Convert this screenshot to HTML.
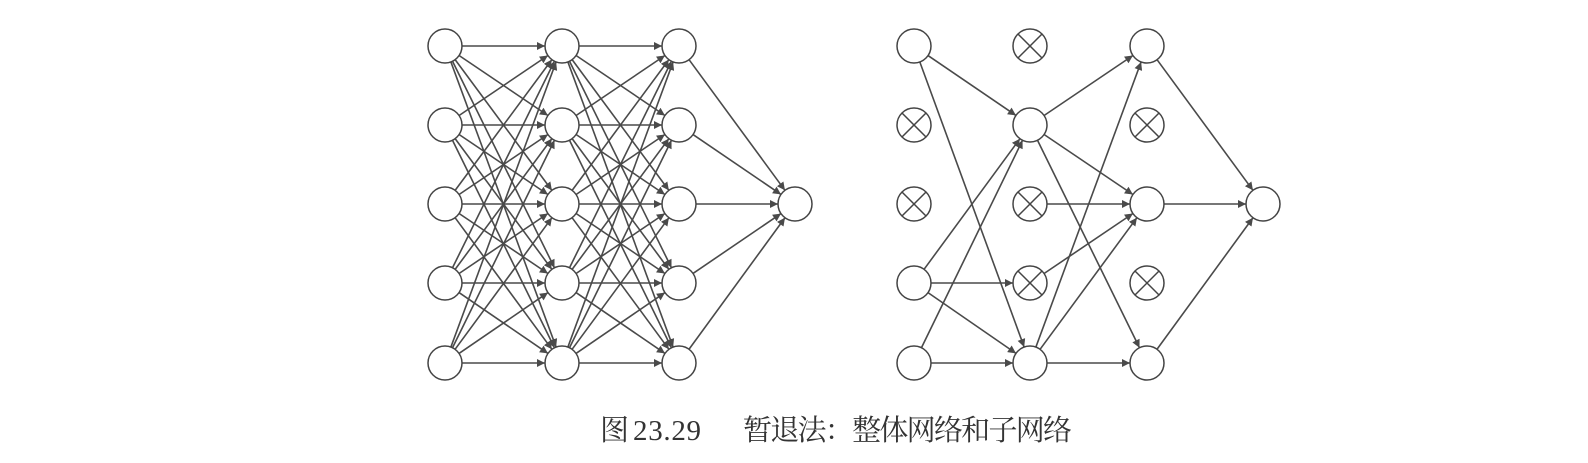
<!DOCTYPE html>
<html><head><meta charset="utf-8">
<style>
html,body{margin:0;padding:0;background:#fff;}
svg{display:block;}
</style></head>
<body>
<svg id="fig" width="1588" height="463" xmlns="http://www.w3.org/2000/svg">
<defs>
<marker id="ah" viewBox="0 0 10 10" refX="10" refY="5" markerWidth="13" markerHeight="8" markerUnits="userSpaceOnUse" orient="auto">
<path d="M0,0 L10,5 L0,10 z" fill="#4a4a4a"/>
</marker>
</defs>
<g id="edges"></g>
<g id="nodes"></g>
<g font-family="'Liberation Serif','Noto Serif CJK SC',serif" fill="#333">
<text x="600" y="440" font-size="29">图</text>
<text x="633" y="440" font-size="29" textLength="68">23.29</text>
<text x="743" y="440" font-size="29" textLength="329" lengthAdjust="spacing">暂退法：整体网络和子网络</text>
</g>
</svg>
<script>
const rows = [46, 125, 204, 283, 363];
const leftX = [445, 562, 679, 795];
const rightX = [914, 1030, 1147, 1263];
const R = 17;
// right network: dropped nodes per layer (row indices)
const droppedL0 = [1, 2];
const droppedL1 = [0, 2, 3];
const droppedL2 = [1, 3];
// right network edges: [fromLayer, fromRow, toRow]
const rightEdges = [
 [0,0,1],[0,0,4],[0,3,1],[0,3,3],[0,3,4],[0,4,1],[0,4,4],
 [1,1,0],[1,1,2],[1,1,4],[1,2,2],[1,3,2],[1,4,0],[1,4,2],[1,4,4],
 [2,0,2],[2,2,2],[2,4,2]
];
const NS = 'http://www.w3.org/2000/svg';
const eg = document.getElementById('edges');
const ng = document.getElementById('nodes');
function edge(x1,y1,x2,y2,name){
  const dx=x2-x1, dy=y2-y1, L=Math.hypot(dx,dy), ux=dx/L, uy=dy/L;
  const l=document.createElementNS(NS,'line');
  l.setAttribute('x1',x1+ux*R); l.setAttribute('y1',y1+uy*R);
  l.setAttribute('x2',x2-ux*R); l.setAttribute('y2',y2-uy*R);
  l.setAttribute('stroke','#4a4a4a'); l.setAttribute('stroke-width','1.6');
  l.setAttribute('marker-end','url(#ah)');
  
  
  eg.appendChild(l);
}
function node(x,y,dropped,name){
  const c=document.createElementNS(NS,'circle');
  c.setAttribute('cx',x); c.setAttribute('cy',y); c.setAttribute('r',R);
  c.setAttribute('fill','#fff'); c.setAttribute('stroke','#444'); c.setAttribute('stroke-width','1.5');
  
  
  ng.appendChild(c);
  if(dropped){
    const d=R*0.7071;
    [[-1,-1,1,1],[-1,1,1,-1]].forEach(p=>{
      const l=document.createElementNS(NS,'line');
      l.setAttribute('x1',x+p[0]*d); l.setAttribute('y1',y+p[1]*d);
      l.setAttribute('x2',x+p[2]*d); l.setAttribute('y2',y+p[3]*d);
      l.setAttribute('stroke','#444'); l.setAttribute('stroke-width','1.5');
      
      
      ng.appendChild(l);
    });
  }
}
const outY = rows[2];
for(let L=0;L<2;L++) for(let i=0;i<5;i++) for(let j=0;j<5;j++)
  edge(leftX[L],rows[i],leftX[L+1],rows[j],'full-net-edge');
for(let i=0;i<5;i++) edge(leftX[2],rows[i],leftX[3],outY,'full-net-output-edge');
for(let L=0;L<3;L++) for(let i=0;i<5;i++) node(leftX[L],rows[i],false,'full-net-node');
node(leftX[3],outY,false,'full-net-output-node');
rightEdges.forEach(e=>{
  if(e[0]===2) edge(rightX[2],rows[e[1]],rightX[3],outY,'subnet-output-edge');
  else edge(rightX[e[0]],rows[e[1]],rightX[e[0]+1],rows[e[2]],'subnet-edge');
});
const dropSets=[droppedL0,droppedL1,droppedL2];
for(let L=0;L<3;L++) for(let i=0;i<5;i++){
  const dr=dropSets[L].includes(i);
  node(rightX[L],rows[i],dr,dr?'dropped-node':'subnet-node');
}
node(rightX[3],outY,false,'subnet-output-node');
</script>
</body></html>
